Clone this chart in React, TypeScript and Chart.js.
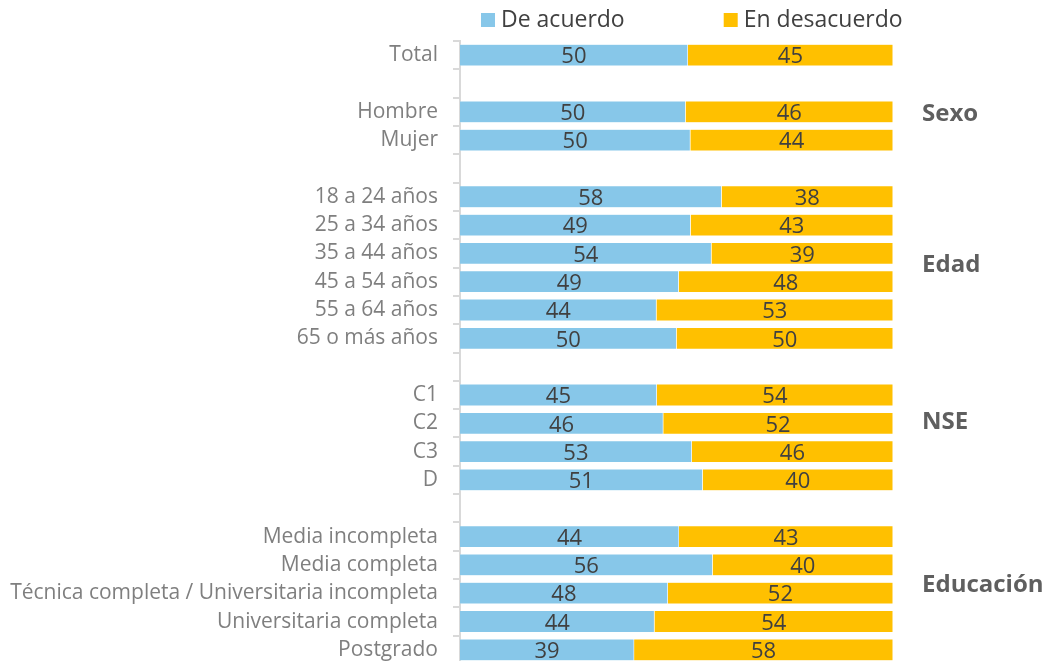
import React, { useEffect, useRef } from "react";
import { Chart, registerables } from "chart.js";

Chart.register(...registerables);

const categories = [
  "Total", "",
  "Hombre", "Mujer", "",
  "18 a 24 años", "25 a 34 años", "35 a 44 años", "45 a 54 años", "55 a 64 años", "65 o más años", "",
  "C1", "C2", "C3", "D", "",
  "Media incompleta", "Media completa", "Técnica completa / Universitaria incompleta", "Universitaria completa", "Postgrado",
];

const deAcuerdo: (number | null)[] = [
  50, null,
  50, 50, null,
  58, 49, 54, 49, 44, 50, null,
  45, 46, 53, 51, null,
  44, 56, 48, 44, 39,
];

const enDesacuerdo: (number | null)[] = [
  45, null,
  46, 44, null,
  38, 43, 39, 48, 53, 50, null,
  54, 52, 46, 40, null,
  43, 40, 52, 54, 58,
];

const seriesNames = ["De acuerdo", "En desacuerdo"];
const seriesColors = ["#87C7E9", "#FFC000"];

// group label names and the (fractional) category index where each is anchored
const groupNames = ["Sexo", "Edad", "NSE", "Educación"];
const groupAnchors = [2.1, 7.43, 12.96, 18.7];

const FONT = "'Open Sans', 'Noto Sans', sans-serif";

function share(a: (number | null)[], b: (number | null)[], first: boolean) {
  return a.map((v, i) => {
    const w = b[i];
    if (v == null || w == null) return null;
    return ((first ? v : w) / (v + w)) * 100;
  });
}

const rawSeries = [deAcuerdo, enDesacuerdo];

const overlayPlugin = {
  id: "overlay",
  afterDatasetsDraw(chart: any) {
    const ctx = chart.ctx;
    const area = chart.chartArea;
    // data labels
    ctx.save();
    ctx.font = `22px ${FONT}`;
    ctx.fillStyle = "#404040";
    ctx.textAlign = "center";
    ctx.textBaseline = "middle";
    chart.data.datasets.forEach((ds: any, di: number) => {
      const meta = chart.getDatasetMeta(di);
      meta.data.forEach((bar: any, i: number) => {
        const raw = rawSeries[di][i];
        if (raw == null) return;
        const cx = (bar.x + bar.base) / 2;
        ctx.fillText(String(raw), cx, bar.y + 2);
      });
    });
    // group labels
    const yScale = chart.scales.y;
    ctx.font = `bold 24px ${FONT}`;
    ctx.fillStyle = "#5f5f5f";
    ctx.textAlign = "left";
    groupNames.forEach((g, i) => {
      const y = yScale.getPixelForValue(groupAnchors[i]);
      ctx.fillText(g, area.right + 29, y);
    });
    // legend
    ctx.font = `23px ${FONT}`;
    ctx.textBaseline = "middle";
    let x = area.left + 21;
    const ly = 20;
    chart.data.datasets.forEach((ds: any) => {
      ctx.fillStyle = ds.backgroundColor;
      ctx.fillRect(x, ly - 7, 14, 14);
      ctx.fillStyle = "#404040";
      ctx.fillText(ds.label, x + 20, ly);
      x += 20 + ctx.measureText(ds.label).width + 99;
    });
    ctx.restore();
  },
};

export default function App() {
  const ref = useRef<HTMLCanvasElement>(null);
  useEffect(() => {
    if (!ref.current) return;
    const chart = new Chart(ref.current, {
      type: "bar",
      data: {
        labels: categories,
        datasets: [
          {
            label: seriesNames[0],
            data: share(deAcuerdo, enDesacuerdo, true),
            backgroundColor: seriesColors[0],
            borderColor: "rgba(255,255,255,0.5)",
            borderWidth: 0.5,
            categoryPercentage: 1,
            barPercentage: 0.77,
          },
          {
            label: seriesNames[1],
            data: share(deAcuerdo, enDesacuerdo, false),
            backgroundColor: seriesColors[1],
            borderColor: "rgba(255,255,255,0.5)",
            borderWidth: 0.5,
            categoryPercentage: 1,
            barPercentage: 0.77,
          },
        ],
      },
      options: {
        indexAxis: "y",
        animation: false,
        responsive: false,
        maintainAspectRatio: false,
        layout: { padding: { top: 41, right: 155, bottom: 16, left: 0 } },
        plugins: {
          legend: { display: false },
          tooltip: { enabled: false },
        },
        scales: {
          x: {
            stacked: true,
            min: 0,
            max: 100,
            display: false,
          },
          y: {
            stacked: true,
            afterFit: (s: any) => {
              s.width = 460;
              s.paddingTop = 0;
              s.paddingBottom = 0;
            },
            grid: {
              display: true,
              drawOnChartArea: false,
              offset: true,
              tickLength: 7,
              color: "#d9d9d9",
              lineWidth: 2,
            },
            border: { display: true, color: "#d9d9d9", width: 2 },
            ticks: {
              padding: 15,
              autoSkip: false,
              color: "#7f7f7f",
              font: { family: FONT, size: 21 },
            },
          },
        },
      },
      plugins: [overlayPlugin],
    });
    return () => chart.destroy();
  }, []);
  return (
    <div style={{ position: "fixed", left: 0, top: 0, width: 1048, height: 680, background: "#fff" }}>
      <canvas ref={ref} width={1048} height={680} style={{ width: 1048, height: 680 }} />
    </div>
  );
}
